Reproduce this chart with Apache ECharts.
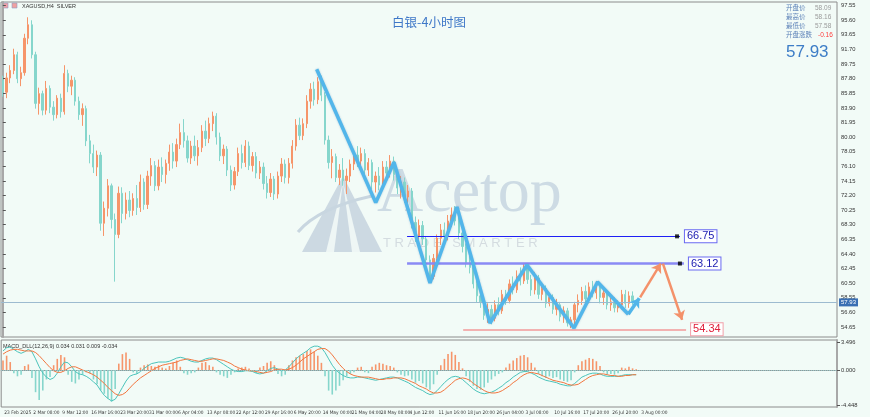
<!DOCTYPE html>
<html><head><meta charset="utf-8">
<script src="https://cdn.jsdelivr.net/npm/echarts@6/dist/echarts.min.js"></script>
<style>html,body{margin:0;padding:0;background:#f2fbf7}#c{width:870px;height:417px}</style>
</head><body><div id="c"></div>
<script>
// ---------------- DATA ----------------
const xTickLabels = ["23 Feb 2025","2 Mar 08:00","9 Mar 12:00","16 Mar 16:00","23 Mar 20:00","31 Mar 00:00","6 Apr 04:00","13 Apr 08:00","22 Apr 12:00","29 Apr 16:00","6 May 20:00","14 May 00:00","21 May 04:00","28 May 08:00","4 Jun 12:00","11 Jun 16:00","18 Jun 20:00","26 Jun 04:00","3 Jul 08:00","10 Jul 16:00","17 Jul 20:00","26 Jul 20:00","3 Aug 00:00"];
const priceTicks = [54.65,56.60,58.55,60.50,62.45,64.40,66.35,68.30,70.25,72.20,74.15,76.10,78.05,80.00,81.95,83.90,85.85,87.80,89.75,91.70,93.65,95.60,97.55];
const macdTicks = [-4.448, 0, 3.496];

const opens = [87.6,86.0,87.9,88.9,91.0,87.8,88.6,93.2,95.0,91.0, 84.5,85.8,83.6,86.5,84.0,83.0,85.2,83.4,88.5,86.8, 87.6,84.8,83.0,83.8,79.5,77.8,76.0,77.6,68.5,70.5, 73.5,69.0,67.0,72.5,69.8,71.6,70.2,71.8,70.6,74.0, 71.0,74.8,76.2,73.5,76.0,75.0,76.5,78.0,76.8,79.0, 80.6,79.5,77.2,78.8,77.5,78.6,80.8,79.8,81.8,82.8, 80.0,77.5,78.4,75.6,73.6,75.4,77.8,76.6,78.8,76.2, 77.4,75.2,76.0,73.8,72.6,74.4,72.4,74.8,76.4,74.6, 76.5,78.8,81.6,80.2,81.8,84.8,86.4,85.0,87.4,85.6, 79.6,76.6,77.4,74.6,75.6,74.2,74.8,76.4,77.6,76.8, 77.8,75.6,76.6,74.0,74.8,73.6,76.0,75.2,76.8,75.0, 73.2,74.0,72.0,72.8,68.6,66.8,68.2,66.4,63.6,61.4, 63.8,66.5,67.6,66.8,68.8,69.6,68.8,67.2,65.4,63.2, 62.6,60.4,58.8,58.0,56.2,57.0,55.8,57.6,56.8,59.0, 58.2,60.4,59.6,61.4,60.8,62.6,61.0,59.6,61.2,59.0, 59.8,57.8,58.6,57.0,57.6,56.0,56.8,55.2,55.6,57.6, 58.2,59.4,58.4,60.0,59.2,60.2,58.6,59.2,57.6,58.0, 57.2,57.6,59.0,57.8,58.8,58.09];
const closes = [86.0,87.9,88.9,91.0,87.8,88.6,93.2,95.0,91.0,84.5, 85.8,83.6,86.5,84.0,83.0,85.2,83.4,88.5,86.8,87.6, 84.8,83.0,83.8,79.5,77.8,76.0,77.6,68.5,70.5,73.5, 69.0,67.0,72.5,69.8,71.6,70.2,71.8,70.6,74.0,71.0, 74.8,76.2,73.5,76.0,75.0,76.5,78.0,76.8,79.0,80.6, 79.5,77.2,78.8,77.5,78.6,80.8,79.8,81.8,82.8,80.0, 77.5,78.4,75.6,73.6,75.4,77.8,76.6,78.8,76.2,77.4, 75.2,76.0,73.8,72.6,74.4,72.4,74.8,76.4,74.6,76.5, 78.8,81.6,80.2,81.8,84.8,86.4,85.0,87.4,85.6,79.6, 76.6,77.4,74.6,75.6,74.2,74.8,76.4,77.6,76.8,77.8, 75.6,76.6,74.0,74.8,73.6,76.0,75.2,76.8,75.0,73.2, 74.0,72.0,72.8,68.6,66.8,68.2,66.4,63.6,61.4,63.8, 66.5,67.6,66.8,68.8,69.6,68.8,67.2,65.4,63.2,62.6, 60.4,58.8,58.0,56.2,57.0,55.8,57.6,56.8,59.0,58.2, 60.4,59.6,61.4,60.8,62.6,61.0,59.6,61.2,59.0,59.8, 57.8,58.6,57.0,57.6,56.0,56.8,55.2,55.6,57.6,58.2, 59.4,58.4,60.0,59.2,60.2,58.6,59.2,57.6,58.0,57.2, 57.6,59.0,57.8,58.8,58.1,57.93];
const lows = [85.4,85.2,87.2,88.4,87.2,86.8,88.2,92.4,90.5,83.8, 83.0,82.9,83.0,83.2,82.2,82.5,82.6,83.0,86.0,85.6, 84.2,82.3,81.5,78.8,76.5,75.2,74.8,67.5,66.8,69.4, 67.8,60.7,66.5,68.5,69.0,69.3,69.5,69.6,70.0,70.3, 70.4,73.5,72.8,72.9,74.0,73.8,75.5,75.8,76.0,78.4, 78.6,76.6,76.4,76.8,76.2,78.0,78.8,79.2,80.8,79.0, 76.8,76.4,74.8,72.8,73.0,74.8,75.8,76.0,75.6,75.4, 74.5,74.4,73.0,71.8,72.0,71.6,71.8,74.0,73.8,73.8, 75.8,78.2,79.6,79.6,81.2,83.8,84.2,84.4,84.8,79.0, 75.8,74.5,74.0,73.6,73.5,72.4,74.0,75.6,76.0,75.8, 74.8,74.8,73.0,72.6,72.9,73.0,74.6,74.6,74.2,72.4, 71.8,71.2,71.0,67.8,66.0,65.8,65.6,62.8,60.6,61.0, 63.2,65.6,66.0,66.2,68.0,68.2,66.4,64.6,62.6,61.8, 59.8,57.9,57.2,55.6,55.2,55.0,55.4,56.2,56.4,57.6, 57.8,59.0,59.2,60.2,60.4,60.4,58.8,59.0,58.4,58.2, 57.2,57.4,56.4,56.2,55.4,55.2,54.7,54.5,54.9,56.6, 57.6,57.8,57.8,58.6,58.4,57.8,57.6,57.0,56.8,56.6, 56.6,57.0,57.2,57.2,57.6,57.58];
const highs = [88.2,88.6,89.6,91.8,91.4,89.4,93.8,96.0,95.6,91.4, 86.6,86.2,87.5,86.9,84.8,85.6,85.8,89.6,89.0,88.2, 88.0,85.4,84.5,84.2,80.3,79.0,78.2,78.0,71.4,74.4, 73.8,69.8,73.4,73.3,72.6,72.8,72.5,73.6,75.0,74.5, 75.5,77.2,76.8,77.0,77.3,77.0,79.0,79.2,79.8,81.8, 82.4,80.2,79.5,80.2,79.6,81.6,82.2,82.6,83.4,83.2, 80.6,79.0,78.8,76.2,76.0,78.6,79.0,79.6,79.4,78.0, 78.0,76.8,76.6,74.8,75.2,74.8,75.4,77.2,77.0,77.2, 79.6,82.4,82.6,82.5,85.6,87.2,87.4,88.0,88.2,86.0, 80.2,78.4,77.8,76.4,77.2,75.8,77.0,78.4,78.8,78.6, 78.4,77.2,77.0,75.4,76.0,76.8,76.8,77.6,77.4,75.6, 74.8,74.6,73.6,73.2,69.4,69.0,68.8,66.8,64.2,64.4, 67.0,68.4,68.6,69.6,70.6,70.8,69.4,67.8,65.8,64.2, 63.2,61.2,59.6,58.6,57.8,57.6,58.2,58.6,59.6,59.6, 61.0,61.4,62.2,62.6,63.2,63.0,61.6,62.0,61.6,60.4, 60.2,59.2,59.0,58.4,58.0,57.4,57.2,56.0,58.0,59.0, 60.0,60.2,60.6,60.8,60.8,60.6,59.8,59.6,58.6,58.6, 58.2,59.6,59.6,59.4,59.4,58.16];

const macdHist = [1.2,1.8,1.0,-0.4,-0.8,-0.6,0.5,0.7,-1.0,-2.8, -3.8,-2.6,-1.2,-0.9,0.6,1.4,1.9,1.6,-0.6,-1.5, -1.7,-1.2,-0.6,-0.3,-0.4,-1.2,-1.8,-2.6,-3.0,-3.6, -4.0,-2.4,0.8,2.0,2.2,1.4,-0.3,-0.5,0.3,0.6, 0.7,0.5,0.4,0.6,0.3,0.2,0.5,0.9,1.2,0.4, -0.4,-0.6,-0.4,-0.3,0.3,0.9,1.0,0.6,0.4,-0.3, -0.6,-0.8,-1.0,-0.6,-0.3,0.2,0.3,0.4,0.2,-0.2, -0.4,0.3,0.5,0.9,1.1,0.6,-0.5,-0.8,-0.6,0.6, 1.2,1.6,1.8,2.0,2.4,2.6,2.3,1.8,0.9,-0.8, -2.6,-3.1,-2.6,-2.0,-1.3,-0.8,-0.5,-0.3,0.3,0.4, -0.3,-0.4,0.4,0.7,0.9,0.8,0.6,0.5,0.3,-0.3, -0.6,-0.8,-0.7,-1.2,-1.6,-1.4,-1.7,-2.2,-2.5,-1.8, -0.6,0.6,1.4,2.0,2.3,1.9,1.0,0.2,-0.8,-1.5, -2.0,-2.4,-2.5,-2.2,-1.6,-1.2,-0.8,-0.5,-0.3,0.3, 0.8,1.2,1.5,1.8,1.9,1.6,0.9,0.3,-0.5,-0.8, -1.0,-0.8,-1.0,-0.9,-1.2,-1.4,-1.5,-1.3,-0.3,0.6, 1.1,1.3,1.5,1.4,1.1,0.5,-0.3,-0.6,-0.5,-0.6, -0.4,0.3,0.2,0.4,0.2,0.1];
const macdDif = [2.4,2.8,2.9,2.6,2.3,2.1,2.3,2.6,2.3,1.4, 0.4,-0.4,-0.9,-1.2,-1.0,-0.4,0.4,1.0,0.9,0.4, -0.2,-0.5,-0.6,-0.8,-1.1,-1.5,-1.9,-2.6,-3.2,-3.6, -3.9,-3.7,-3.0,-2.2,-1.4,-0.8,-0.6,-0.5,-0.2,0.2, 0.5,0.8,0.9,1.0,1.0,1.0,1.1,1.3,1.5,1.6, 1.5,1.3,1.1,1.0,1.0,1.2,1.4,1.5,1.5,1.3, 1.0,0.7,0.4,0.1,-0.1,-0.2,-0.2,-0.1,-0.1,-0.2, -0.4,-0.5,-0.4,-0.1,0.2,0.3,0.1,-0.1,0.0,0.4, 0.9,1.4,1.8,2.1,2.4,2.8,3.0,3.0,2.8,2.2, 1.4,0.6,0.0,-0.4,-0.7,-0.9,-1.0,-1.0,-0.9,-0.9, -1.0,-1.1,-1.2,-1.3,-1.2,-1.1,-1.0,-0.9,-0.9,-1.0, -1.2,-1.4,-1.6,-1.9,-2.2,-2.4,-2.6,-2.9,-3.1,-3.0, -2.6,-2.1,-1.6,-1.2,-0.9,-0.8,-0.9,-1.2,-1.6,-2.0, -2.4,-2.7,-2.9,-3.0,-2.9,-2.8,-2.6,-2.3,-2.0,-1.6, -1.3,-0.9,-0.6,-0.3,-0.2,-0.2,-0.4,-0.6,-0.9,-1.1, -1.3,-1.4,-1.5,-1.6,-1.8,-1.9,-2.0,-2.0,-1.7,-1.3, -0.9,-0.7,-0.5,-0.4,-0.4,-0.5,-0.7,-0.8,-0.8,-0.8, -0.8,-0.7,-0.6,-0.6,-0.6,-0.6];
const macdDea = [2.0,2.3,2.5,2.6,2.6,2.5,2.4,2.4,2.4,2.2, 1.8,1.3,0.8,0.3,-0.1,-0.3,-0.3,-0.1,0.2,0.4, 0.4,0.2,0.0,-0.2,-0.4,-0.6,-0.9,-1.3,-1.7,-2.2, -2.6,-3.0,-3.2,-3.1,-2.8,-2.3,-1.8,-1.4,-1.0,-0.7, -0.4,-0.1,0.2,0.4,0.6,0.7,0.8,0.9,1.0,1.2, 1.3,1.4,1.3,1.2,1.1,1.1,1.2,1.3,1.4,1.4, 1.3,1.2,1.0,0.8,0.5,0.3,0.1,0.0,-0.1,-0.1, -0.2,-0.3,-0.4,-0.3,-0.2,0.0,0.1,0.1,0.0,0.1, 0.3,0.6,1.0,1.4,1.7,2.0,2.3,2.6,2.7,2.7, 2.4,1.9,1.3,0.7,0.2,-0.2,-0.5,-0.7,-0.8,-0.9, -0.9,-0.9,-1.0,-1.1,-1.2,-1.2,-1.1,-1.1,-1.0,-1.0, -1.0,-1.1,-1.3,-1.5,-1.7,-2.0,-2.2,-2.4,-2.7,-2.9, -2.9,-2.8,-2.5,-2.1,-1.7,-1.3,-1.1,-1.0,-1.1,-1.3, -1.7,-2.0,-2.3,-2.6,-2.8,-2.9,-2.9,-2.8,-2.6,-2.3, -2.0,-1.6,-1.3,-0.9,-0.6,-0.4,-0.3,-0.4,-0.5,-0.7, -0.9,-1.1,-1.3,-1.4,-1.5,-1.6,-1.8,-1.9,-1.9,-1.8, -1.5,-1.2,-0.9,-0.7,-0.6,-0.5,-0.5,-0.6,-0.7,-0.7, -0.8,-0.8,-0.7,-0.7,-0.6,-0.6];

// wave drawing (bar index, price)
const zigIdx = [86.73,103.04,108.09,118.04,125.5,134.6,144.85,157.83,164.33,172.83];
const zigPrice = [89.06,71.25,76.64,60.52,70.67,55.18,62.93,54.52,60.66,56.35];
const zigArrowEnd = [175.87, 58.48];
const projIdx = [176.1, 181.8, 182.4, 187.7];
const projPrice = [58.6, 63.12, 63.12, 55.6];
const levelValues = [66.75, 63.12, 54.34];
const levelStartIdx = [111.7, 111.7, 127.2];
const levelEndIdx = [187.1, 188.2, 188.8];
const levelSquareIdx = [186.3, 187.1];
const lastPrice = 57.93;
const infoLabels = ["开盘价","最高价","最低价","开盘涨跌"];
const infoValues = ["58.09","58.16","57.58","-0.16"];

// ---------------- CHART ----------------
const N = 231;
const cats = Array.from({length: N}, (_, i) => 'b' + i);
const ohlc = opens.map((o, i) => [o, closes[i], lows[i], highs[i]]);
const UP = '#f6956a', DOWN = '#86d6cc';
const histData = macdHist.map(v => ({value: v, itemStyle: {color: v >= 0 ? UP : DOWN}}));

const zigData = zigIdx.map((x, i) => [x, zigPrice[i]]);
const levelStyles = [
  {line: '#1f1ff5', w: 1.2, text: '#1a1ab0', border: '#6a6af2'},
  {line: '#8a8af5', w: 2.6, text: '#1a1ab0', border: '#6a6af2'},
  {line: '#f29a9a', w: 1.5, text: '#e0203a', border: '#f2a0aa'}
];
const markData = [];
levelValues.forEach((v, k) => {
  const s = levelStyles[k];
  markData.push([
    {coord: [levelStartIdx[k], v], lineStyle: {color: s.line, width: s.w, type: 'solid'}, symbol: 'none',
     label: {show: true, position: 'end', distance: 5, formatter: v.toFixed(2), color: s.text, fontSize: 11,
             fontFamily: 'Liberation Sans, Arial', backgroundColor: '#fff', borderColor: s.border, borderWidth: 1, padding: [1, 2, 0, 2]}},
    {coord: [levelEndIdx[k], v], symbol: 'none'}
  ]);
});
markData.push([
  {coord: [zigIdx[zigIdx.length - 1], zigPrice[zigPrice.length - 1]], lineStyle: {color: '#52b6ea', width: 3.5, type: 'solid'}, label: {show: false}},
  {coord: zigArrowEnd}
]);
for (let k = 0; k < projIdx.length; k += 2) {
  markData.push([
    {coord: [projIdx[k], projPrice[k]], lineStyle: {color: '#f4916a', width: 2.5, type: 'solid'}, label: {show: false}},
    {coord: [projIdx[k + 1], projPrice[k + 1]]}
  ]);
}

const txt = (x, y, text, size, color, extra) => Object.assign({
  type: 'text', x, y, silent: true,
  style: Object.assign({text, fontSize: size, fill: color, fontFamily: 'Liberation Sans, Arial, Noto Sans CJK SC', textVerticalAlign: 'middle'}, extra || {})
});

const graphics = [
  {type: 'polygon', z: -1, silent: true, shape: {points: [[343, 176], [302, 252], [382, 252]]}, style: {fill: '#ccd9e2'}},
  {type: 'polygon', z: -1, silent: true, shape: {points: [[343, 182], [326, 252], [334, 252]]}, style: {fill: '#eef6f5'}},
  {type: 'polygon', z: -1, silent: true, shape: {points: [[343, 182], [352, 252], [360, 252]]}, style: {fill: '#eef6f5'}},
  {type: 'bezierCurve', z: -1, silent: true, shape: {x1: 298, y1: 232, cpx1: 318, cpy1: 208, x2: 372, y2: 196}, style: {stroke: '#c8d6e0', lineWidth: 3, fill: null}},
  {type: 'text', z: -1, x: 377, y: 226, silent: true, style: {text: 'Acetop', fontSize: 64, fill: '#cddbe4', fontFamily: 'Liberation Serif, Times New Roman, serif', textVerticalAlign: 'bottom'}},
  {type: 'text', z: -1, x: 383, y: 243, silent: true, style: {text: 'T R A D E   S M A R T E R', fontSize: 13, fill: '#d4dce0', fontFamily: 'Liberation Sans, Arial', textVerticalAlign: 'middle'}},
  txt(429, 22, '白银-4小时图', 12.5, '#3f78c8', {textAlign: 'center', fontFamily: 'Noto Sans CJK SC'}),
  {type: 'rect', silent: true, shape: {x: 3, y: 3, width: 5, height: 5}, style: {fill: '#f0a0a8', stroke: '#8aa0c8', lineWidth: 0.6}},
  {type: 'rect', silent: true, shape: {x: 12, y: 3, width: 5, height: 5}, style: {fill: '#f0a0a0', stroke: '#8aa0c8', lineWidth: 0.6}},
  txt(22, 6, 'XAGUSD,H4  SILVER', 5.5, '#333'),
  txt(3, 346, 'MACD_DLL(12,26,9) 0.034 0.031 0.009 -0.034', 5.5, '#333'),
  txt(786, 52, lastPrice.toFixed(2), 17, '#3d7dc7')
];
infoLabels.forEach((l, k) => {
  graphics.push(txt(786, 8 + 9 * k, l, 6.5, '#5c82b8', {fontFamily: 'Noto Sans CJK SC'}));
  graphics.push(txt(k === 3 ? 818 : 815, 8 + 9 * k, infoValues[k], 6.5, k === 3 ? '#ff3b3b' : '#9a9a9a'));
});

const chart = echarts.init(document.getElementById('c'), null, {renderer: 'canvas'});
chart.setOption({
  backgroundColor: '#f2fbf7',
  animation: false,
  textStyle: {fontFamily: 'Liberation Sans, Arial'},
  grid: [
    {left: 1, width: 836, top: 2, height: 335, show: true, borderColor: '#8c8c8c', borderWidth: 1},
    {left: 1, width: 836, top: 340, height: 67, show: true, borderColor: '#8c8c8c', borderWidth: 1}
  ],
  xAxis: [
    {type: 'category', gridIndex: 0, data: cats, boundaryGap: true, axisLabel: {show: false}, axisTick: {show: false}, axisLine: {show: false}, splitLine: {show: false}},
    {type: 'category', gridIndex: 1, data: cats, boundaryGap: true,
     axisLine: {lineStyle: {color: '#8c8c8c'}},
     axisTick: {interval: 7, alignWithLabel: true, length: 3, lineStyle: {color: '#555'}},
     axisLabel: {interval: 7, showMinLabel: true, hideOverlap: false, align: 'left', margin: 3, fontSize: 4.8, color: '#333',
                 fontFamily: 'Liberation Sans Narrow, DejaVu Sans Condensed, Arial',
                 formatter: (v, idx) => (idx % 8 === 0 && xTickLabels[idx / 8]) ? ' ' + xTickLabels[idx / 8] : ''}},
    {type: 'value', gridIndex: 0, min: -0.5, max: N - 0.5, show: false}
  ],
  yAxis: [
    {type: 'value', gridIndex: 0, position: 'right', min: 53.31, max: 98.04,
     axisLine: {show: true, lineStyle: {color: '#a8a8a8', width: 2}},
     axisTick: {show: true, customValues: priceTicks, length: 3, lineStyle: {color: '#555'}},
     axisLabel: {customValues: priceTicks, formatter: v => v.toFixed(2), fontSize: 5.8, color: '#333', margin: 4},
     splitLine: {show: false}},
    {type: 'value', gridIndex: 1, position: 'right', min: -4.67, max: 3.78,
     axisLine: {show: true, lineStyle: {color: '#a8a8a8', width: 2}},
     axisTick: {show: true, customValues: macdTicks, length: 3, lineStyle: {color: '#555'}},
     axisLabel: {customValues: macdTicks, formatter: v => v.toFixed(3), fontSize: 5.8, color: '#333', margin: 4},
     splitLine: {show: false}}
  ],
  series: [
    {type: 'candlestick', xAxisIndex: 0, yAxisIndex: 0, data: ohlc, barMaxWidth: 1.8,
     itemStyle: {color: UP, color0: DOWN, borderColor: UP, borderColor0: DOWN, borderWidth: 1},
     markLine: {silent: true, symbol: 'none', animation: false,
       data: [{yAxis: lastPrice, lineStyle: {color: '#9dbbd0', width: 1, type: 'solid'},
         label: {show: true, position: 'end', distance: 2, formatter: lastPrice.toFixed(2), color: '#fff', backgroundColor: '#3a6fb3', fontSize: 6, padding: [1, 2]}}]}},
    {type: 'bar', xAxisIndex: 1, yAxisIndex: 1, data: histData, barWidth: 1.6,
     markLine: {silent: true, symbol: 'none', data: [{yAxis: 0}], label: {show: false}, lineStyle: {color: '#9ccfd0', type: 'dotted', width: 1}}},
    {type: 'line', xAxisIndex: 1, yAxisIndex: 1, data: macdDif, symbol: 'none', lineStyle: {color: '#4cc4bb', width: 1}},
    {type: 'line', xAxisIndex: 1, yAxisIndex: 1, data: macdDea, symbol: 'none', lineStyle: {color: '#f3763f', width: 1}},
    {type: 'line', xAxisIndex: 2, yAxisIndex: 0, data: zigData, symbol: 'none', z: 5,
     lineStyle: {color: '#52b6ea', width: 3.5, shadowColor: 'rgba(40,110,170,0.35)', shadowBlur: 2},
     markLine: {silent: true, symbol: ['none', 'arrow'], symbolSize: 9, data: markData}},
    {type: 'scatter', xAxisIndex: 2, yAxisIndex: 0, symbol: 'rect', symbolSize: 4, z: 6,
     itemStyle: {color: '#000'}, data: levelSquareIdx.map((x, k) => [x, levelValues[k]])}
  ],
  graphic: graphics
});
</script></body></html>
